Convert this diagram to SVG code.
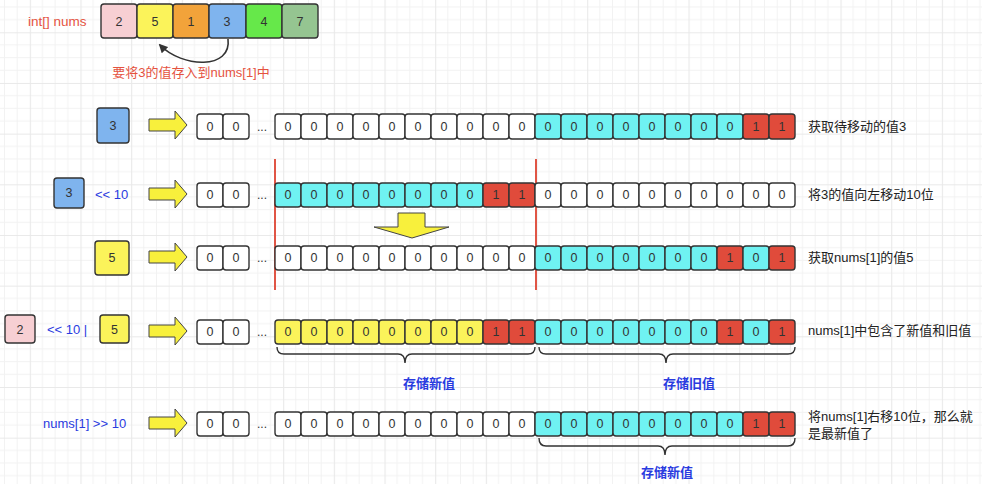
<svg xmlns="http://www.w3.org/2000/svg" width="1000" height="484" viewBox="0 0 1000 484">
<defs>
<pattern id="grid" patternUnits="userSpaceOnUse" x="29.8" y="32.3" width="50.67" height="50.67">
<path d="M12.67 0V50.67M25.33 0V50.67M38 0V50.67M0 12.67H50.67M0 25.33H50.67M0 38H50.67" stroke="#f2f2f2" stroke-width="1" fill="none"/>
<path d="M0.5 0V50.67M0 0.5H50.67" stroke="#e9e9e9" stroke-width="1.2" fill="none"/>
</pattern>
<marker id="ah" viewBox="0 0 10 10" refX="8" refY="5" markerWidth="9" markerHeight="9" orient="auto" markerUnits="userSpaceOnUse">
<path d="M0,0 L10,5 L0,10 Z" fill="#333"/>
</marker>
<polygon id="rarrow" points="0,-6 26,-6 26,-14 38,0 26,14 26,6 0,6" fill="#f8f03c" stroke="#444" stroke-width="1"/>
</defs>
<style>
text{font-family:"Liberation Sans","Noto Sans CJK SC",sans-serif}
.c{stroke:#333;stroke-width:1.4}
.w{fill:#ffffff}.cy{fill:#6ff2f2}.r{fill:#e04b3b}.y{fill:#fbf35a}.bl{fill:#7fb4ee}.pk{fill:#f7cfd3}
.n text,text.n{font-size:12.5px;fill:#333;text-anchor:middle}
.lab{font-size:13px;fill:#222}
.blue{font-size:13px;fill:#2a3be0}
.bluec{font-size:13px;fill:#2a3be0;text-anchor:middle;font-weight:bold}
.red{fill:#e5533f;font-size:13px}
.dots{font-size:12px;fill:#333}
.brace{fill:none;stroke:#333;stroke-width:1.4}
</style>
<rect x="0" y="0" width="1000" height="484" fill="#ffffff"/>
<rect x="0" y="0" width="982" height="484" fill="url(#grid)"/>

<g id="nums-array">
<text x="28" y="26" class="red" style="font-size:13.5px">int[] nums</text>
<g class="n">
<rect x="101" y="4" width="36" height="34" rx="3" class="c pk"/><text x="119" y="26">2</text>
<rect x="137" y="4" width="36" height="34" rx="3" class="c y"/><text x="155" y="26">5</text>
<rect x="173" y="4" width="36" height="34" rx="3" class="c" fill="#f2a33a"/><text x="191" y="26">1</text>
<rect x="209" y="4" width="37" height="34" rx="3" class="c bl"/><text x="227" y="26">3</text>
<rect x="246" y="4" width="36" height="34" rx="3" class="c" fill="#66e84a"/><text x="264" y="26">4</text>
<rect x="282" y="4" width="36" height="34" rx="3" class="c" fill="#95c591"/><text x="300" y="26">7</text>
</g>
<text x="191" y="77" class="red" text-anchor="middle">要将3的值存入到nums[1]中</text>
</g>

<g id="connectors">
<path d="M228,39 C232,70 182,68 160,45" fill="none" stroke="#333" stroke-width="1.6" marker-end="url(#ah)"/>
<use href="#rarrow" x="149" y="125"/>
<use href="#rarrow" x="149" y="194"/>
<use href="#rarrow" x="149" y="257"/>
<use href="#rarrow" x="149" y="331"/>
<use href="#rarrow" x="149" y="423"/>
<polygon points="398,213 425,213 425,227 449,227 412,238 374,227 398,227" fill="#f8f03c" stroke="#444" stroke-width="1"/>
<line x1="275" y1="159" x2="275" y2="290" stroke="#e05545" stroke-width="2"/>
<line x1="536" y1="159" x2="536" y2="290" stroke="#e05545" stroke-width="2"/>
<path class="brace" d="M277,347 Q277,354 284,354 L398,354 Q405,354 405,363 Q405,354 412,354 L528,354 Q535,354 535,347"/>
<path class="brace" d="M539,347 Q539,354 546,354 L659,354 Q666,354 666,363 Q666,354 673,354 L788,354 Q795,354 795,347"/>
<path class="brace" d="M539,438 Q539,446 546,446 L658,446 Q665,446 665,455 Q665,446 672,446 L788,446 Q795,446 795,438"/>
</g>

<g id="row1">
<g class="n">
<rect x="97" y="108" width="32" height="35" rx="3" class="c bl"/><text x="113" y="130">3</text>
<rect x="197" y="114" width="26" height="25" rx="3" class="c w"/><text x="210" y="131">0</text>
<rect x="223" y="114" width="26" height="25" rx="3" class="c w"/><text x="236" y="131">0</text>
</g>
<text x="257" y="131" class="dots">...</text>
<g class="n">
<rect x="275" y="114" width="26" height="25" rx="3" class="c w"/><text x="288" y="131">0</text>
<rect x="301" y="114" width="26" height="25" rx="3" class="c w"/><text x="314" y="131">0</text>
<rect x="327" y="114" width="26" height="25" rx="3" class="c w"/><text x="340" y="131">0</text>
<rect x="353" y="114" width="26" height="25" rx="3" class="c w"/><text x="366" y="131">0</text>
<rect x="379" y="114" width="26" height="25" rx="3" class="c w"/><text x="392" y="131">0</text>
<rect x="405" y="114" width="26" height="25" rx="3" class="c w"/><text x="418" y="131">0</text>
<rect x="431" y="114" width="26" height="25" rx="3" class="c w"/><text x="444" y="131">0</text>
<rect x="457" y="114" width="26" height="25" rx="3" class="c w"/><text x="470" y="131">0</text>
<rect x="483" y="114" width="26" height="25" rx="3" class="c w"/><text x="496" y="131">0</text>
<rect x="509" y="114" width="26" height="25" rx="3" class="c w"/><text x="522" y="131">0</text>
<rect x="535" y="114" width="26" height="25" rx="3" class="c cy"/><text x="548" y="131">0</text>
<rect x="561" y="114" width="26" height="25" rx="3" class="c cy"/><text x="574" y="131">0</text>
<rect x="587" y="114" width="26" height="25" rx="3" class="c cy"/><text x="600" y="131">0</text>
<rect x="613" y="114" width="26" height="25" rx="3" class="c cy"/><text x="626" y="131">0</text>
<rect x="639" y="114" width="26" height="25" rx="3" class="c cy"/><text x="652" y="131">0</text>
<rect x="665" y="114" width="26" height="25" rx="3" class="c cy"/><text x="678" y="131">0</text>
<rect x="691" y="114" width="26" height="25" rx="3" class="c cy"/><text x="704" y="131">0</text>
<rect x="717" y="114" width="26" height="25" rx="3" class="c cy"/><text x="730" y="131">0</text>
<rect x="743" y="114" width="26" height="25" rx="3" class="c r"/><text x="756" y="131">1</text>
<rect x="769" y="114" width="26" height="25" rx="3" class="c r"/><text x="782" y="131">1</text>
</g>
<text x="808" y="131" class="lab">获取待移动的值3</text>
</g>

<g id="row2">
<g class="n">
<rect x="54" y="178" width="30" height="30" rx="3" class="c bl"/><text x="69" y="197">3</text>
</g>
<text x="95" y="199" class="blue">&lt;&lt; 10</text>
<g class="n">
<rect x="197" y="183" width="26" height="24" rx="3" class="c w"/><text x="210" y="199">0</text>
<rect x="223" y="183" width="26" height="24" rx="3" class="c w"/><text x="236" y="199">0</text>
</g>
<text x="257" y="199" class="dots">...</text>
<g class="n">
<rect x="275" y="183" width="26" height="24" rx="3" class="c cy"/><text x="288" y="199">0</text>
<rect x="301" y="183" width="26" height="24" rx="3" class="c cy"/><text x="314" y="199">0</text>
<rect x="327" y="183" width="26" height="24" rx="3" class="c cy"/><text x="340" y="199">0</text>
<rect x="353" y="183" width="26" height="24" rx="3" class="c cy"/><text x="366" y="199">0</text>
<rect x="379" y="183" width="26" height="24" rx="3" class="c cy"/><text x="392" y="199">0</text>
<rect x="405" y="183" width="26" height="24" rx="3" class="c cy"/><text x="418" y="199">0</text>
<rect x="431" y="183" width="26" height="24" rx="3" class="c cy"/><text x="444" y="199">0</text>
<rect x="457" y="183" width="26" height="24" rx="3" class="c cy"/><text x="470" y="199">0</text>
<rect x="483" y="183" width="26" height="24" rx="3" class="c r"/><text x="496" y="199">1</text>
<rect x="509" y="183" width="26" height="24" rx="3" class="c r"/><text x="522" y="199">1</text>
<rect x="535" y="183" width="26" height="24" rx="3" class="c w"/><text x="548" y="199">0</text>
<rect x="561" y="183" width="26" height="24" rx="3" class="c w"/><text x="574" y="199">0</text>
<rect x="587" y="183" width="26" height="24" rx="3" class="c w"/><text x="600" y="199">0</text>
<rect x="613" y="183" width="26" height="24" rx="3" class="c w"/><text x="626" y="199">0</text>
<rect x="639" y="183" width="26" height="24" rx="3" class="c w"/><text x="652" y="199">0</text>
<rect x="665" y="183" width="26" height="24" rx="3" class="c w"/><text x="678" y="199">0</text>
<rect x="691" y="183" width="26" height="24" rx="3" class="c w"/><text x="704" y="199">0</text>
<rect x="717" y="183" width="26" height="24" rx="3" class="c w"/><text x="730" y="199">0</text>
<rect x="743" y="183" width="26" height="24" rx="3" class="c w"/><text x="756" y="199">0</text>
<rect x="769" y="183" width="26" height="24" rx="3" class="c w"/><text x="782" y="199">0</text>
</g>
<text x="808" y="199" class="lab">将3的值向左移动10位</text>
</g>

<g id="row3">
<g class="n">
<rect x="95" y="241" width="34" height="34" rx="3" class="c y"/><text x="112" y="262">5</text>
<rect x="197" y="246" width="26" height="24" rx="3" class="c w"/><text x="210" y="262">0</text>
<rect x="223" y="246" width="26" height="24" rx="3" class="c w"/><text x="236" y="262">0</text>
</g>
<text x="257" y="262" class="dots">...</text>
<g class="n">
<rect x="275" y="246" width="26" height="24" rx="3" class="c w"/><text x="288" y="262">0</text>
<rect x="301" y="246" width="26" height="24" rx="3" class="c w"/><text x="314" y="262">0</text>
<rect x="327" y="246" width="26" height="24" rx="3" class="c w"/><text x="340" y="262">0</text>
<rect x="353" y="246" width="26" height="24" rx="3" class="c w"/><text x="366" y="262">0</text>
<rect x="379" y="246" width="26" height="24" rx="3" class="c w"/><text x="392" y="262">0</text>
<rect x="405" y="246" width="26" height="24" rx="3" class="c w"/><text x="418" y="262">0</text>
<rect x="431" y="246" width="26" height="24" rx="3" class="c w"/><text x="444" y="262">0</text>
<rect x="457" y="246" width="26" height="24" rx="3" class="c w"/><text x="470" y="262">0</text>
<rect x="483" y="246" width="26" height="24" rx="3" class="c w"/><text x="496" y="262">0</text>
<rect x="509" y="246" width="26" height="24" rx="3" class="c w"/><text x="522" y="262">0</text>
<rect x="535" y="246" width="26" height="24" rx="3" class="c cy"/><text x="548" y="262">0</text>
<rect x="561" y="246" width="26" height="24" rx="3" class="c cy"/><text x="574" y="262">0</text>
<rect x="587" y="246" width="26" height="24" rx="3" class="c cy"/><text x="600" y="262">0</text>
<rect x="613" y="246" width="26" height="24" rx="3" class="c cy"/><text x="626" y="262">0</text>
<rect x="639" y="246" width="26" height="24" rx="3" class="c cy"/><text x="652" y="262">0</text>
<rect x="665" y="246" width="26" height="24" rx="3" class="c cy"/><text x="678" y="262">0</text>
<rect x="691" y="246" width="26" height="24" rx="3" class="c cy"/><text x="704" y="262">0</text>
<rect x="717" y="246" width="26" height="24" rx="3" class="c r"/><text x="730" y="262">1</text>
<rect x="743" y="246" width="26" height="24" rx="3" class="c cy"/><text x="756" y="262">0</text>
<rect x="769" y="246" width="26" height="24" rx="3" class="c r"/><text x="782" y="262">1</text>
</g>
<text x="808" y="262" class="lab">获取nums[1]的值5</text>
</g>

<g id="row4">
<g class="n">
<rect x="5" y="315" width="30" height="28" rx="3" class="c pk"/><text x="20" y="334">2</text>
</g>
<text x="47" y="334" class="blue">&lt;&lt; 10 |</text>
<g class="n">
<rect x="100" y="315" width="29" height="28" rx="3" class="c y"/><text x="114.5" y="334">5</text>
<rect x="197" y="320" width="26" height="24" rx="3" class="c w"/><text x="210" y="336">0</text>
<rect x="223" y="320" width="26" height="24" rx="3" class="c w"/><text x="236" y="336">0</text>
</g>
<text x="257" y="336" class="dots">...</text>
<g class="n">
<rect x="275" y="320" width="26" height="24" rx="3" class="c y"/><text x="288" y="336">0</text>
<rect x="301" y="320" width="26" height="24" rx="3" class="c y"/><text x="314" y="336">0</text>
<rect x="327" y="320" width="26" height="24" rx="3" class="c y"/><text x="340" y="336">0</text>
<rect x="353" y="320" width="26" height="24" rx="3" class="c y"/><text x="366" y="336">0</text>
<rect x="379" y="320" width="26" height="24" rx="3" class="c y"/><text x="392" y="336">0</text>
<rect x="405" y="320" width="26" height="24" rx="3" class="c y"/><text x="418" y="336">0</text>
<rect x="431" y="320" width="26" height="24" rx="3" class="c y"/><text x="444" y="336">0</text>
<rect x="457" y="320" width="26" height="24" rx="3" class="c y"/><text x="470" y="336">0</text>
<rect x="483" y="320" width="26" height="24" rx="3" class="c r"/><text x="496" y="336">1</text>
<rect x="509" y="320" width="26" height="24" rx="3" class="c r"/><text x="522" y="336">1</text>
<rect x="535" y="320" width="26" height="24" rx="3" class="c cy"/><text x="548" y="336">0</text>
<rect x="561" y="320" width="26" height="24" rx="3" class="c cy"/><text x="574" y="336">0</text>
<rect x="587" y="320" width="26" height="24" rx="3" class="c cy"/><text x="600" y="336">0</text>
<rect x="613" y="320" width="26" height="24" rx="3" class="c cy"/><text x="626" y="336">0</text>
<rect x="639" y="320" width="26" height="24" rx="3" class="c cy"/><text x="652" y="336">0</text>
<rect x="665" y="320" width="26" height="24" rx="3" class="c cy"/><text x="678" y="336">0</text>
<rect x="691" y="320" width="26" height="24" rx="3" class="c cy"/><text x="704" y="336">0</text>
<rect x="717" y="320" width="26" height="24" rx="3" class="c r"/><text x="730" y="336">1</text>
<rect x="743" y="320" width="26" height="24" rx="3" class="c cy"/><text x="756" y="336">0</text>
<rect x="769" y="320" width="26" height="24" rx="3" class="c r"/><text x="782" y="336">1</text>
</g>
<text x="808" y="335" class="lab">nums[1]中包含了新值和旧值</text>
<text x="429" y="388" class="bluec">存储新值</text>
<text x="689" y="388" class="bluec">存储旧值</text>
</g>

<g id="row5">
<text x="43" y="428" class="blue">nums[1] &gt;&gt; 10</text>
<g class="n">
<rect x="197" y="412" width="26" height="24" rx="3" class="c w"/><text x="210" y="428">0</text>
<rect x="223" y="412" width="26" height="24" rx="3" class="c w"/><text x="236" y="428">0</text>
</g>
<text x="257" y="428" class="dots">...</text>
<g class="n">
<rect x="275" y="412" width="26" height="24" rx="3" class="c w"/><text x="288" y="428">0</text>
<rect x="301" y="412" width="26" height="24" rx="3" class="c w"/><text x="314" y="428">0</text>
<rect x="327" y="412" width="26" height="24" rx="3" class="c w"/><text x="340" y="428">0</text>
<rect x="353" y="412" width="26" height="24" rx="3" class="c w"/><text x="366" y="428">0</text>
<rect x="379" y="412" width="26" height="24" rx="3" class="c w"/><text x="392" y="428">0</text>
<rect x="405" y="412" width="26" height="24" rx="3" class="c w"/><text x="418" y="428">0</text>
<rect x="431" y="412" width="26" height="24" rx="3" class="c w"/><text x="444" y="428">0</text>
<rect x="457" y="412" width="26" height="24" rx="3" class="c w"/><text x="470" y="428">0</text>
<rect x="483" y="412" width="26" height="24" rx="3" class="c w"/><text x="496" y="428">0</text>
<rect x="509" y="412" width="26" height="24" rx="3" class="c w"/><text x="522" y="428">0</text>
<rect x="535" y="412" width="26" height="24" rx="3" class="c cy"/><text x="548" y="428">0</text>
<rect x="561" y="412" width="26" height="24" rx="3" class="c cy"/><text x="574" y="428">0</text>
<rect x="587" y="412" width="26" height="24" rx="3" class="c cy"/><text x="600" y="428">0</text>
<rect x="613" y="412" width="26" height="24" rx="3" class="c cy"/><text x="626" y="428">0</text>
<rect x="639" y="412" width="26" height="24" rx="3" class="c cy"/><text x="652" y="428">0</text>
<rect x="665" y="412" width="26" height="24" rx="3" class="c cy"/><text x="678" y="428">0</text>
<rect x="691" y="412" width="26" height="24" rx="3" class="c cy"/><text x="704" y="428">0</text>
<rect x="717" y="412" width="26" height="24" rx="3" class="c cy"/><text x="730" y="428">0</text>
<rect x="743" y="412" width="26" height="24" rx="3" class="c r"/><text x="756" y="428">1</text>
<rect x="769" y="412" width="26" height="24" rx="3" class="c r"/><text x="782" y="428">1</text>
</g>
<text x="808" y="421" class="lab">将nums[1]右移10位，那么就</text>
<text x="808" y="438" class="lab">是最新值了</text>
<text x="667" y="477" class="bluec">存储新值</text>
</g>
</svg>
